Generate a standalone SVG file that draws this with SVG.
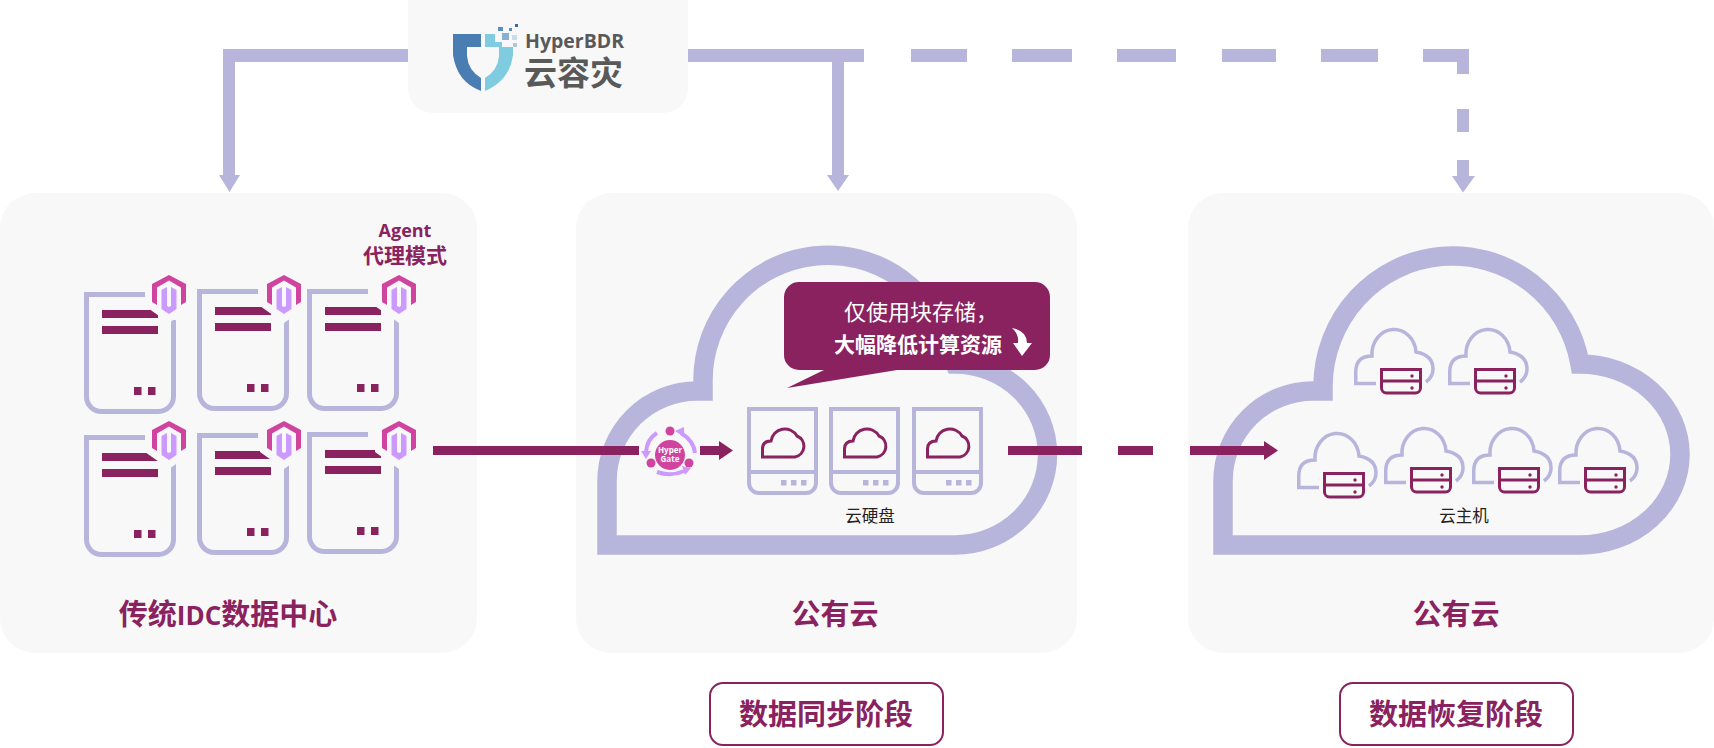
<svg xmlns="http://www.w3.org/2000/svg" xmlns:xlink="http://www.w3.org/1999/xlink" width="1714" height="748" viewBox="0 0 1714 748">
<style>
.panel{fill:#f8f8f8}
.cjk{font-family:"Noto Sans CJK SC","Open Sans",sans-serif}
.title{font-size:29px;font-weight:700;fill:#8a2260;text-anchor:middle}
.small{font-size:16.5px;fill:#222;text-anchor:middle}
.big{fill:none;stroke:#b8b5dc;stroke-width:19.5;stroke-linejoin:miter}
.lav{fill:#b8b5dc}
.pur{fill:#8a2260}
.stage{fill:#fff;stroke:#8a2260;stroke-width:2}
</style>
<defs>
<g id="server">
<path d="M61 2.5H2.5V104A15 15 0 0 0 17.5 119.5H74.5A15 15 0 0 0 89.5 104.5V28" fill="none" stroke="#b8b5dc" stroke-width="5"/>
<rect class="pur" x="18" y="18" width="56" height="8"/>
<rect class="pur" x="18" y="34" width="56" height="8"/>
<rect class="pur" x="50" y="95" width="7.5" height="8"/>
<rect class="pur" x="64" y="95" width="7.5" height="8"/>
</g>
<g id="hex">
<path d="M0 -6L24 7V31L0 48L-24 31V7Z" fill="#f8f8f8"/>
<path d="M0 0L17 9V27L12 30V12.5L0 5.500L-12 12.5V30L-17 27V9Z" fill="#d044a0"/>
<path d="M-7.500 15L-2 12V31L0 32L2 31V12L7.500 15V34L0 39L-7.500 34Z" fill="#cc99ff"/>
</g>
<g id="disk">
<path d="M749 409H816V483A10 10 0 0 1 806 493H759A10 10 0 0 1 749 483Z M749 472H816" fill="none" stroke="#b8b5dc" stroke-width="4"/>
<rect class="lav" x="781" y="480" width="5.500" height="5.500"/>
<rect class="lav" x="791" y="480" width="5.500" height="5.500"/>
<rect class="lav" x="801" y="480" width="5.500" height="5.500"/>
<path d="M762.500 457V449Q762.500 441 771 441A14 14 0 0 1 797 436A11 11 0 0 1 795 457Z" fill="none" stroke="#8a2260" stroke-width="3"/>
</g>
<g id="vm">
<path d="M22 55.500H1.750V44Q1.750 28 18 28A22 24.500 0 0 1 62 24Q79 27 79 41Q79 49 72 54" fill="none" stroke="#b8b5dc" stroke-width="3.500"/>
<path d="M27.500 41.500H66.500V60A5 5 0 0 1 61.500 65H32.500A5 5 0 0 1 27.500 60ZM27.500 53H66.500" fill="none" stroke="#8a2260" stroke-width="3"/>
<circle class="pur" cx="58" cy="48" r="1.700"/>
<circle class="pur" cx="58" cy="60" r="1.700"/>
</g>
</defs>
<rect width="1714" height="748" fill="#fff"/>

<g id="panel-idc">
<rect class="panel" x="0" y="193" width="477" height="460" rx="35"/>
<text class="cjk title" x="228" y="625">传统<tspan font-family="Open Sans,sans-serif" font-size="26">IDC</tspan>数据中心</text>
<text x="405" y="237" font-family="Open Sans,sans-serif" font-size="18" font-weight="700" fill="#8a2260" text-anchor="middle">Agent</text>
<text class="cjk" x="405" y="263" font-size="21" font-weight="700" fill="#8a2260" text-anchor="middle">代理模式</text>
</g>
<g id="panel-sync">
<rect class="panel" x="576" y="193" width="501" height="460" rx="35"/>
<text class="cjk title" x="835" y="625">公有云</text>
</g>
<g id="panel-recover">
<rect class="panel" x="1188" y="193" width="526" height="460" rx="35"/>
<text class="cjk title" x="1456" y="625">公有云</text>
</g>

<g id="cloud-sync"><path class="big" d="M607 545V481A90 90 0 0 1 697 391H703V380A125 125 0 0 1 950 353L955 364A92.500 90.500 0 0 1 1047.500 454.500A92.500 90.500 0 0 1 955 545Z"/></g>
<g id="cloud-recover"><path class="big" d="M1223 545V481A90 90 0 0 1 1313 391H1323V386A129.500 131 0 0 1 1580 364A100 90.500 0 0 1 1680 454.500A100 90.500 0 0 1 1580 545Z"/></g>

<g id="connectors">
<path class="lav" d="M408 49H223V175H219L229.500 192L240 175H235V62H408Z"/>
<path class="lav" d="M688 49H864V62H844V175H849L838 191L827 175H832V62H688Z"/>
<g class="lav">
<rect x="911" y="49" width="56" height="13"/>
<rect x="1012" y="49" width="60" height="13"/>
<rect x="1117" y="49" width="59" height="13"/>
<rect x="1222" y="49" width="54" height="13"/>
<rect x="1321" y="49" width="57" height="13"/>
<path d="M1423 49H1469V74H1457V62H1423Z"/>
<rect x="1457" y="109" width="12" height="23"/>
<path d="M1457 160H1469V176H1475L1463 192.500L1452 176H1457Z"/>
</g>
<g class="pur">
<rect x="433" y="446" width="206" height="9"/>
<path d="M700 446H719V441L733 450.500L719 460V455H700Z"/>
<rect x="1008" y="446" width="74" height="9"/>
<rect x="1118" y="446" width="35" height="9"/>
<path d="M1190 446H1264V441L1278 450.500L1264 460V455H1190Z"/>
</g>
</g>

<g id="logo">
<rect x="408" y="-20" width="280" height="133" rx="25" fill="#f8f8f8"/>
<path d="M453 34H481V47H467V56Q468 70 481 78V91Q457 82 453 55Z" fill="#4a7eb3"/>
<path d="M485 34H495V42H502V47H513V55Q510 80 485 91V78Q498 70 499 56V47H485Z" fill="#7fcce0"/>
<rect x="498" y="27" width="5" height="4" fill="#5a8ec8"/>
<rect x="509" y="28" width="3" height="3" fill="#5a8ec8"/>
<rect x="515" y="24" width="3" height="3" fill="#2f6aa8"/>
<rect x="502" y="33" width="7" height="7" fill="#8ab0d0"/>
<rect x="512" y="35" width="5" height="5" fill="#c8dcec"/>
<rect x="513" y="43" width="4" height="4" fill="#b0c8d8"/>
<text x="525" y="48" font-family="Open Sans,sans-serif" font-size="19.500" font-weight="700" fill="#595959">HyperBDR</text>
<text class="cjk" x="524" y="85" font-size="33" font-weight="700" fill="#595959">云容灾</text>
</g>

<g id="server-1"><use href="#server" x="84" y="292"/><use href="#hex" x="169" y="275"/></g>
<g id="server-2"><use href="#server" x="197" y="289"/><use href="#hex" x="284" y="275"/></g>
<g id="server-3"><use href="#server" x="307" y="289"/><use href="#hex" x="399" y="275"/></g>
<g id="server-4"><use href="#server" x="84" y="435"/><use href="#hex" x="169" y="421"/></g>
<g id="server-5"><use href="#server" x="197" y="433"/><use href="#hex" x="284" y="421"/></g>
<g id="server-6"><use href="#server" x="307" y="432"/><use href="#hex" x="399" y="421"/></g>

<g id="hypergate">
<circle cx="670" cy="455" r="15" fill="#d044a0"/>
<circle cx="670" cy="431" r="4.500" fill="#d044a0"/>
<circle cx="651" cy="463" r="4.500" fill="#d044a0"/>
<circle cx="689" cy="463" r="4.500" fill="#d044a0"/>
<path d="M657 433Q647 439 646 452M695 453Q694 441 681 433M657 472Q671 477 684 471" fill="none" stroke="#cc99ff" stroke-width="4"/>
<path d="M641 451L651 451L646 459ZM684 427L684 437L675 431ZM682 466L685 475L691 468Z" fill="#cc99ff"/>
<text font-family="Open Sans,sans-serif" font-size="8" font-weight="700" fill="#fff" text-anchor="middle"><tspan x="670" y="453">Hyper</tspan><tspan x="670" y="462">Gate</tspan></text>
</g>

<g id="disk-1"><use href="#disk"/></g>
<g id="disk-2"><use href="#disk" x="82"/></g>
<g id="disk-3"><use href="#disk" x="165"/></g>
<text class="cjk small" x="870" y="522">云硬盘</text>

<g id="callout">
<path class="pur" d="M799 282H1035A15 15 0 0 1 1050 297V355A15 15 0 0 1 1035 370H897L787 388L824 370H799A15 15 0 0 1 784 355V297A15 15 0 0 1 799 282Z"/>
<text class="cjk" x="844" y="320" font-size="22" font-weight="400" fill="#fff">仅使用块存储，</text>
<text class="cjk" x="834" y="352" font-size="21" font-weight="700" fill="#fff">大幅降低计算资源</text>
<path d="M1012 328Q1027 331 1027 343H1032L1022 356L1013 343H1018Q1019 334 1012 328Z" fill="#fff"/>
</g>

<g id="vm-1"><use href="#vm" x="1354" y="328"/></g>
<g id="vm-2"><use href="#vm" x="1448" y="328"/></g>
<g id="vm-3"><use href="#vm" x="1297" y="432"/></g>
<g id="vm-4"><use href="#vm" x="1384" y="427"/></g>
<g id="vm-5"><use href="#vm" x="1472" y="427"/></g>
<g id="vm-6"><use href="#vm" x="1558" y="427"/></g>
<text class="cjk small" x="1464" y="522">云主机</text>

<g id="stage-sync">
<rect class="stage" x="710" y="683" width="233" height="62" rx="13"/>
<text class="cjk title" x="826" y="725">数据同步阶段</text>
</g>
<g id="stage-recover">
<rect class="stage" x="1340" y="683" width="233" height="62" rx="13"/>
<text class="cjk title" x="1456" y="725">数据恢复阶段</text>
</g>
</svg>
